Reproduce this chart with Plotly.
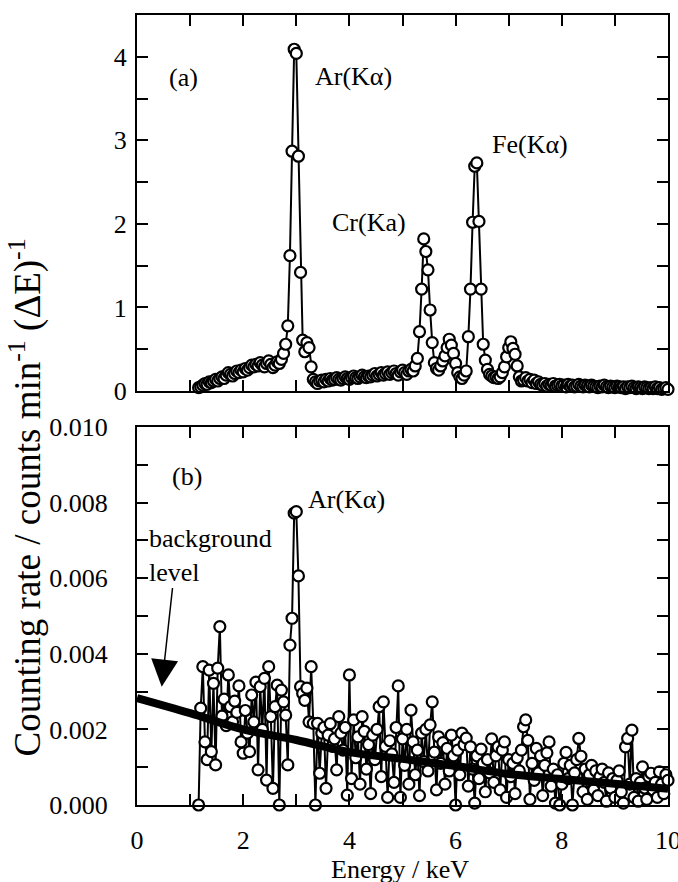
import plotly.graph_objects as go

# Energy channels (keV)
energy = [
    1.16, 1.20, 1.24, 1.28, 1.32, 1.36, 1.40, 1.44, 1.48, 1.52,
    1.56, 1.60, 1.64, 1.68, 1.72, 1.76, 1.80, 1.84, 1.88, 1.92,
    1.96, 2.00, 2.04, 2.08, 2.12, 2.16, 2.20, 2.24, 2.28, 2.32,
    2.36, 2.40, 2.44, 2.48, 2.52, 2.56, 2.60, 2.64, 2.68, 2.72,
    2.76, 2.80, 2.84, 2.88, 2.92, 2.96, 3.00, 3.04, 3.08, 3.12,
    3.16, 3.20, 3.24, 3.28, 3.32, 3.36, 3.40, 3.44, 3.48, 3.52,
    3.56, 3.60, 3.64, 3.68, 3.72, 3.76, 3.80, 3.84, 3.88, 3.92,
    3.96, 4.00, 4.04, 4.08, 4.12, 4.16, 4.20, 4.24, 4.28, 4.32,
    4.36, 4.40, 4.44, 4.48, 4.52, 4.56, 4.60, 4.64, 4.68, 4.72,
    4.76, 4.80, 4.84, 4.88, 4.92, 4.96, 5.00, 5.04, 5.08, 5.12,
    5.16, 5.20, 5.24, 5.28, 5.32, 5.36, 5.40, 5.44, 5.48, 5.52,
    5.56, 5.60, 5.64, 5.68, 5.72, 5.76, 5.80, 5.84, 5.88, 5.92,
    5.96, 6.00, 6.04, 6.08, 6.12, 6.16, 6.20, 6.24, 6.28, 6.32,
    6.36, 6.40, 6.44, 6.48, 6.52, 6.56, 6.60, 6.64, 6.68, 6.72,
    6.76, 6.80, 6.84, 6.88, 6.92, 6.96, 7.00, 7.04, 7.08, 7.12,
    7.16, 7.20, 7.24, 7.28, 7.32, 7.36, 7.40, 7.44, 7.48, 7.52,
    7.56, 7.60, 7.64, 7.68, 7.72, 7.76, 7.80, 7.84, 7.88, 7.92,
    7.96, 8.00, 8.04, 8.08, 8.12, 8.16, 8.20, 8.24, 8.28, 8.32,
    8.36, 8.40, 8.44, 8.48, 8.52, 8.56, 8.60, 8.64, 8.68, 8.72,
    8.76, 8.80, 8.84, 8.88, 8.92, 8.96, 9.00, 9.04, 9.08, 9.12,
    9.16, 9.20, 9.24, 9.28, 9.32, 9.36, 9.40, 9.44, 9.48, 9.52,
    9.56, 9.60, 9.64, 9.68, 9.72, 9.76, 9.80, 9.84, 9.88, 9.92,
    9.96, 10.00,
]

# (a) counting rate, counts/min per channel
rate_a = [
    0.04, 0.05, 0.07, 0.09, 0.08, 0.11, 0.10, 0.12, 0.14, 0.12,
    0.15, 0.17, 0.15, 0.19, 0.22, 0.20, 0.18, 0.21, 0.24, 0.22,
    0.25, 0.23, 0.27, 0.25, 0.28, 0.31, 0.29, 0.32, 0.30, 0.34,
    0.31, 0.29, 0.33, 0.36, 0.32, 0.28, 0.31, 0.35, 0.33, 0.38,
    0.45, 0.56, 0.78, 1.62, 2.87, 4.09, 4.04, 2.81, 1.42, 0.61,
    0.47, 0.58, 0.52, 0.29, 0.14, 0.11, 0.09, 0.12, 0.13, 0.11,
    0.14, 0.12, 0.15, 0.13, 0.14, 0.16, 0.14, 0.13, 0.15, 0.17,
    0.15, 0.14, 0.16, 0.18, 0.16, 0.15, 0.17, 0.19, 0.17, 0.16,
    0.18, 0.17, 0.19, 0.21, 0.18, 0.20, 0.22, 0.19, 0.21, 0.23,
    0.20, 0.22, 0.24, 0.21, 0.19, 0.23, 0.25, 0.22, 0.20, 0.24,
    0.26, 0.24, 0.30, 0.39, 0.71, 1.22, 1.82, 1.67, 1.45, 0.97,
    0.58, 0.34, 0.27, 0.25, 0.30, 0.36, 0.42, 0.52, 0.62, 0.55,
    0.45, 0.33, 0.22, 0.17, 0.15, 0.19, 0.24, 0.65, 1.22, 2.02,
    2.69, 2.73, 2.03, 1.22, 0.56, 0.37, 0.26, 0.20, 0.18, 0.16,
    0.17, 0.15, 0.17, 0.22, 0.29, 0.41, 0.52, 0.59, 0.51, 0.44,
    0.30, 0.17, 0.12, 0.13, 0.16, 0.12, 0.14, 0.10, 0.13, 0.09,
    0.11, 0.08, 0.07, 0.09, 0.06, 0.08, 0.07, 0.09, 0.06, 0.07,
    0.08, 0.06, 0.07, 0.05, 0.08, 0.06, 0.07, 0.05, 0.06, 0.08,
    0.06, 0.05, 0.07, 0.06, 0.05, 0.07, 0.06, 0.05, 0.04, 0.06,
    0.05, 0.07, 0.05, 0.04, 0.06, 0.05, 0.04, 0.06, 0.05, 0.04,
    0.05, 0.03, 0.05, 0.04, 0.06, 0.04, 0.03, 0.05, 0.04, 0.03,
    0.05, 0.04, 0.03, 0.04, 0.03, 0.05, 0.03, 0.04, 0.02, 0.03,
    0.04, 0.02,
]

# (b) counting rate in units of 1e-3 counts/min per channel
rate_b_milli = [
    0.00, 2.56, 3.66, 1.67, 1.20, 3.57, 1.41, 3.22, 1.06, 3.62,
    4.72, 2.35, 2.80, 2.10, 3.44, 2.60, 2.20, 2.75, 2.45, 3.15,
    1.67, 1.37, 2.50, 1.90, 1.41, 2.91, 2.20, 3.25, 0.93, 3.13,
    2.00, 3.35, 0.66, 3.66, 2.34, 0.44, 2.60, 3.17, 0.00, 3.04,
    2.73, 2.38, 1.06, 4.23, 4.94, 7.72, 7.76, 6.06, 3.13, 2.95,
    2.77, 3.09, 2.20, 3.66, 2.16, 0.00, 2.16, 0.84, 1.90, 2.05,
    0.44, 1.85, 2.15, 1.55, 1.75, 0.93, 2.34, 1.90, 1.45, 2.05,
    0.26, 3.44, 0.70, 2.25, 1.25, 1.80, 0.55, 2.34, 1.95, 0.95,
    1.60, 0.30, 1.85, 1.20, 2.00, 2.60, 0.75, 2.73, 1.55, 0.20,
    1.70, 1.35, 0.60, 2.05, 3.15, 0.20, 1.75, 1.05, 2.00, 0.55,
    2.51, 1.67, 0.80, 1.45, 0.25, 1.90, 1.15, 2.00, 0.90, 2.12,
    2.73, 1.40, 0.40, 1.80, 1.10, 1.65, 0.55, 1.50, 0.90, 1.85,
    1.30, 0.00, 1.45, 0.80, 1.90, 1.60, 1.77, 0.50, 1.54, 0.95,
    0.05, 1.30, 0.70, 1.48, 1.10, 0.35, 1.20, 0.85, 1.75, 0.60,
    1.30, 1.54, 0.40, 1.45, 1.67, 0.20, 1.20, 0.75, 1.10, 0.30,
    1.25, 0.90, 1.45, 2.07, 2.25, 1.71, 0.15, 1.10, 0.65, 1.50,
    0.85, 1.30, 0.25, 1.05, 1.38, 1.67, 0.50, 0.95, 0.05, 0.80,
    0.00, 0.55, 1.10, 1.39, 0.70, 1.05, 0.00, 0.85, 1.20, 1.76,
    1.29, 0.35, 0.95, 0.15, 0.80, 1.05, 0.40, 0.90, 0.25, 0.75,
    0.95, 0.60, 0.10, 0.85, 0.45, 0.70, 0.20, 0.65, 0.90, 0.35,
    0.05, 1.54, 1.76, 0.55, 1.98, 0.20, 0.70, 0.10, 0.60, 1.01,
    0.45, 0.15, 0.75, 0.84, 0.40, 0.60, 0.20, 0.88, 0.55, 0.30,
    0.80, 0.65,
]

# Background level estimate (1e-3 counts/min) at whole keV
bg_energy = [0, 1, 2, 3, 4, 5, 6, 7, 8, 9, 10]
bg_milli = [2.83, 2.43, 2.00, 1.72, 1.40, 1.22, 1.03, 0.82, 0.69, 0.56, 0.43]

rate_b = [v * 1e-3 for v in rate_b_milli]
bg_level = [v * 1e-3 for v in bg_milli]

FONT = "Liberation Serif"
FS = 26

fig = go.Figure()

marker = dict(symbol="circle", size=11, color="white",
              line=dict(color="black", width=2.2))

fig.add_trace(go.Scatter(
    x=energy, y=rate_a, mode="lines+markers",
    line=dict(color="black", width=2), marker=marker,
    xaxis="x", yaxis="y", cliponaxis=False, showlegend=False))

fig.add_trace(go.Scatter(
    x=energy, y=rate_b, mode="lines+markers",
    line=dict(color="black", width=2), marker=marker,
    xaxis="x2", yaxis="y2", cliponaxis=False, showlegend=False))

fig.add_trace(go.Scatter(
    x=bg_energy, y=bg_level, mode="lines",
    line=dict(color="black", width=8, shape="spline"),
    xaxis="x2", yaxis="y2", showlegend=False))

tickfont = dict(family=FONT, size=FS, color="black")
minor_style = dict(ticks="inside", ticklen=11, tickwidth=1.5, tickcolor="black")
axis_common = dict(
    showline=True, linecolor="black", linewidth=2, mirror="ticks",
    ticks="inside", ticklen=11, tickwidth=1.5, tickcolor="black",
    showgrid=False, zeroline=False, tickfont=tickfont,
    ticklabeloverflow="allow",
)

fig.update_layout(
    template="none",
    width=678, height=882,
    margin=dict(l=137, r=10, t=15, b=77),
    paper_bgcolor="white", plot_bgcolor="white",
    font=dict(family=FONT, size=FS, color="black"),
    xaxis=dict(axis_common, domain=[0, 1], range=[0, 10], dtick=2,
               anchor="y", showticklabels=False,
               minor=dict(minor_style, dtick=1)),
    yaxis=dict(axis_common, domain=[0.524, 1.0], range=[0, 4.5], dtick=1,
               anchor="x", ticklabelstandoff=3,
               minor=dict(minor_style, dtick=0.5)),
    xaxis2=dict(axis_common, domain=[0, 1], range=[0, 10], dtick=2,
                anchor="y2", ticklabelstandoff=11,
                minor=dict(minor_style, dtick=1)),
    yaxis2=dict(axis_common, domain=[0, 0.4785], range=[0, 0.010],
                dtick=0.002, tickformat=".3f", anchor="x2",
                ticklabelstandoff=22,
                minor=dict(minor_style, dtick=0.001)),
)

txt = dict(family=FONT, size=FS, color="black")
annotations = [
    dict(x=0.885, y=3.75, xref="x", yref="y", text="(a)", showarrow=False, font=txt),
    dict(x=4.07, y=3.76, xref="x", yref="y", text="Ar(Kα)", showarrow=False, font=txt),
    dict(x=4.37, y=2.02, xref="x", yref="y", text="Cr(Ka)", showarrow=False, font=txt),
    dict(x=7.40, y=2.95, xref="x", yref="y", text="Fe(Kα)", showarrow=False, font=txt),
    dict(x=0.94, y=0.0087, xref="x2", yref="y2", text="(b)", showarrow=False, font=txt),
    dict(x=3.94, y=0.00807, xref="x2", yref="y2", text="Ar(Kα)", showarrow=False, font=txt),
    dict(x=0.19, y=0.0066, xref="x2", yref="y2", text="background<br>level",
         showarrow=False, font=txt, xanchor="left", align="left"),
    dict(x=0.465, y=0.00313, xref="x2", yref="y2", ax=0.672, ay=0.00578,
         axref="x2", ayref="y2", text="", showarrow=True, arrowhead=2,
         arrowsize=3.6, arrowwidth=1.5, arrowcolor="black", standoff=0),
    dict(x=-0.21, y=0.39, xref="paper", yref="paper", textangle=-90,
         text="Counting rate / counts min<sup>-1</sup> (ΔE)<sup>-1</sup>",
         showarrow=False, font=dict(family=FONT, size=37, color="black"),
         xanchor="center", yanchor="middle"),
    dict(x=0.495, y=-0.082, xref="paper", yref="paper", text="Energy / keV",
         showarrow=False, font=txt, xanchor="center", yanchor="middle"),
]
fig.update_layout(annotations=annotations)

fig.write_html("out.html")
